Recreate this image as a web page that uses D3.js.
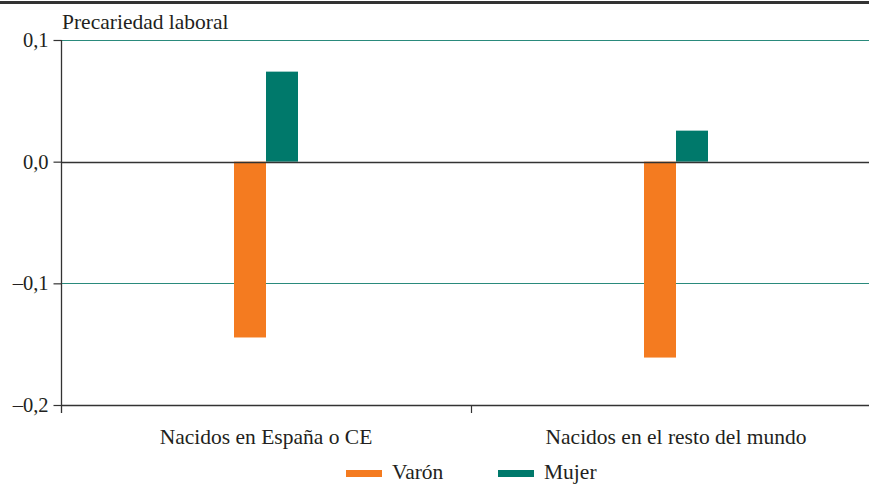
<!DOCTYPE html>
<html><head><meta charset="utf-8">
<script src="https://cdn.jsdelivr.net/npm/d3@7"></script>
<style>body{margin:0;background:#fff}svg{display:block}</style>
</head><body><svg id="c" width="869" height="484"></svg>
<script>
const categories = ["Nacidos en España o CE", "Nacidos en el resto del mundo"];
const seriesNames = ["Varón", "Mujer"];
const varon = [-0.1445, -0.161];
const mujer = [0.074, 0.0255];
const yTicks = [0.1, 0.0, -0.1, -0.2];
const yTickLabels = ["0,1", "0,0", "–0,1", "–0,2"];
const colors = ["#f47b20", "#00796b"];
const yTitle = "Precariedad laboral";

const FONT = "'Liberation Serif'";
const FS = 21.5;
const svg = d3.select("#c");
const W = 869;
const x0 = 61;
const x = d3.scaleBand().domain(categories).range([x0, 881]).paddingInner(0).paddingOuter(0);
const y = d3.scaleLinear().domain([-0.2, 0.1]).range([405, 40]);
const barW = 32;

function txt(sel, fs) {
  return sel.attr("font-family", FONT).attr("font-size", fs || FS).attr("fill", "#231f20");
}

// top rule
svg.append("rect").attr("x", 0).attr("y", 1).attr("width", W).attr("height", 3).attr("fill", "#333");

// gridlines at ±0.1
svg.selectAll(".grid").data([0.1, -0.1]).join("line")
  .attr("x1", x0).attr("x2", W).attr("y1", d => Math.round(y(d)) + 0.5).attr("y2", d => Math.round(y(d)) + 0.5)
  .attr("stroke", "#2a8a7c").attr("stroke-width", 1);

// bars
const data = [];
categories.forEach((c, i) => {
  data.push({c, s: 0, v: varon[i]});
  data.push({c, s: 1, v: mujer[i]});
});
svg.selectAll(".bar").data(data).join("rect")
  .attr("x", d => x(d.c) + x.bandwidth() / 2 + (d.s === 0 ? -barW : 0))
  .attr("width", barW)
  .attr("y", d => y(Math.max(0, d.v)))
  .attr("height", d => Math.abs(y(d.v) - y(0)))
  .attr("fill", d => colors[d.s]);

// zero line and bottom line
[0, -0.2].forEach(v => {
  svg.append("line").attr("x1", x0).attr("x2", W)
    .attr("y1", Math.round(y(v)) + 0.5).attr("y2", Math.round(y(v)) + 0.5)
    .attr("stroke", "#333").attr("stroke-width", 1.3);
});

// y axis
const yAxis = d3.axisLeft(y).tickValues(yTicks).tickSize(8).tickPadding(5)
  .tickFormat((d, i) => yTickLabels[i]);
const ga = svg.append("g").attr("transform", `translate(${x0 + 0.5},0)`).call(yAxis);
ga.select(".domain").remove();
ga.attr("font-family", FONT).attr("font-size", 20.5);
ga.selectAll(".tick line").attr("stroke", "#333").attr("stroke-width", 1.2);
txt(ga.selectAll(".tick text"), 20.5);
svg.append("line").attr("x1", x0 + 0.5).attr("x2", x0 + 0.5).attr("y1", y(0.1)).attr("y2", y(-0.2) + 8)
  .attr("stroke", "#333").attr("stroke-width", 1.3);

// category separator tick
svg.append("line").attr("x1", x(categories[1]) + 0.5).attr("x2", x(categories[1]) + 0.5)
  .attr("y1", y(-0.2)).attr("y2", y(-0.2) + 8).attr("stroke", "#333").attr("stroke-width", 1.2);

// category labels
txt(svg.selectAll(".cat").data(categories).join("text")
  .attr("x", d => x(d) + x.bandwidth() / 2).attr("y", 444)
  .attr("text-anchor", "middle").text(d => d));

// y title
txt(svg.append("text").attr("x", 62).attr("y", 29).text(yTitle));

// legend
const legX = [346, 498];
seriesNames.forEach((s, i) => {
  svg.append("rect").attr("x", legX[i]).attr("y", 470).attr("width", 36).attr("height", 7).attr("fill", colors[i]);
  txt(svg.append("text").attr("x", legX[i] + 46).attr("y", 479).text(s));
});
</script></body></html>
